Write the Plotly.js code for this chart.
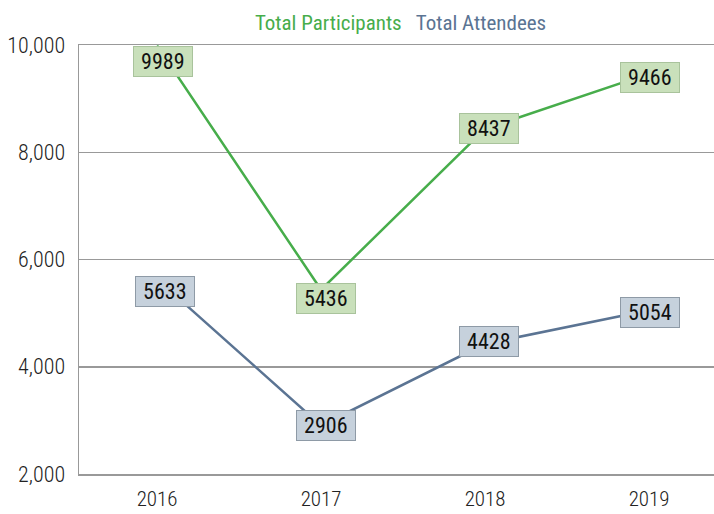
<!DOCTYPE html>
<html>
<head>
<meta charset="utf-8">
<script src="https://cdn.plot.ly/plotly-3.0.1.min.js"></script>
<style>html,body{margin:0;padding:0;background:#fff;}#chart{width:714px;height:514px;}</style>
</head>
<body>
<div id="chart"></div>
<script>
const years = ['2016', '2017', '2018', '2019'];
const participants = [9989, 5436, 8437, 9466];
const attendees = [5633, 2906, 4428, 5054];
const yTicks = [2000, 4000, 6000, 8000, 10000];

const FONT = '"Roboto Condensed", Roboto, sans-serif';
const green = '#47ad4b';
const blue = '#5b7493';

// label offsets (pixels) to mimic the reference placement
const pShift = [[6, -16], [5, -9], [4, 0], [1, -4]];
const aShift = [[8, -12], [5, 0], [4, 2], [1, -2]];

const NB = '\u00a0';
const annotations = [];
years.forEach((yr, i) => {
  annotations.push({
    x: i, y: participants[i], xref: 'x', yref: 'y',
    text: NB + String(participants[i]) + NB, showarrow: false,
    xshift: pShift[i][0], yshift: pShift[i][1],
    font: {family: FONT, size: 22, color: '#111'},
    bgcolor: '#c9e0bb', bordercolor: '#a9c39c', borderwidth: 1, borderpad: 2
  });
  annotations.push({
    x: i, y: attendees[i], xref: 'x', yref: 'y',
    text: NB + String(attendees[i]) + NB, showarrow: false,
    xshift: aShift[i][0], yshift: aShift[i][1],
    font: {family: FONT, size: 22, color: '#111'},
    bgcolor: '#c6d1dc', bordercolor: '#8e9aa6', borderwidth: 1, borderpad: 2
  });
});

const traces = [
  {x: years, y: participants, type: 'scatter', mode: 'lines', name: 'Total Participants',
   line: {color: green, width: 2.5}, cliponaxis: false},
  {x: years, y: attendees, type: 'scatter', mode: 'lines', name: 'Total Attendees',
   line: {color: blue, width: 2.5}, cliponaxis: false}
];

const layout = {
  width: 714, height: 514,
  margin: {l: 79, r: 0, t: 45, b: 40, pad: 0},
  paper_bgcolor: '#fff', plot_bgcolor: '#fff',
  showlegend: false,
  title: {
    text: '<span style="color:' + green + '">Total Participants</span>   <span style="color:' + blue + '">Total Attendees</span>',
    x: 0.561, xanchor: 'center', y: 0.955, yanchor: 'middle',
    font: {family: FONT, size: 21}
  },
  xaxis: {
    type: 'category', range: [-0.476, 3.396],
    showgrid: false, showline: true, mirror: true, linecolor: '#999', linewidth: 1.5,
    zeroline: false, ticks: '',
    tickfont: {family: FONT, size: 21, color: '#222', weight: 300},
    ticklabelstandoff: 5, fixedrange: true
  },
  yaxis: {
    range: [2000, 10000], tickvals: yTicks, tickformat: ',d',
    showgrid: true, gridcolor: '#999', gridwidth: 1.5,
    showline: true, linecolor: '#999', linewidth: 1.5,
    zeroline: false, ticks: '',
    tickfont: {family: FONT, size: 22, color: '#222', weight: 300},
    ticklabelstandoff: 8, fixedrange: true
  },
  annotations: annotations
};

Plotly.newPlot('chart', traces, layout, {displayModeBar: false, staticPlot: true});
</script>
</body>
</html>
